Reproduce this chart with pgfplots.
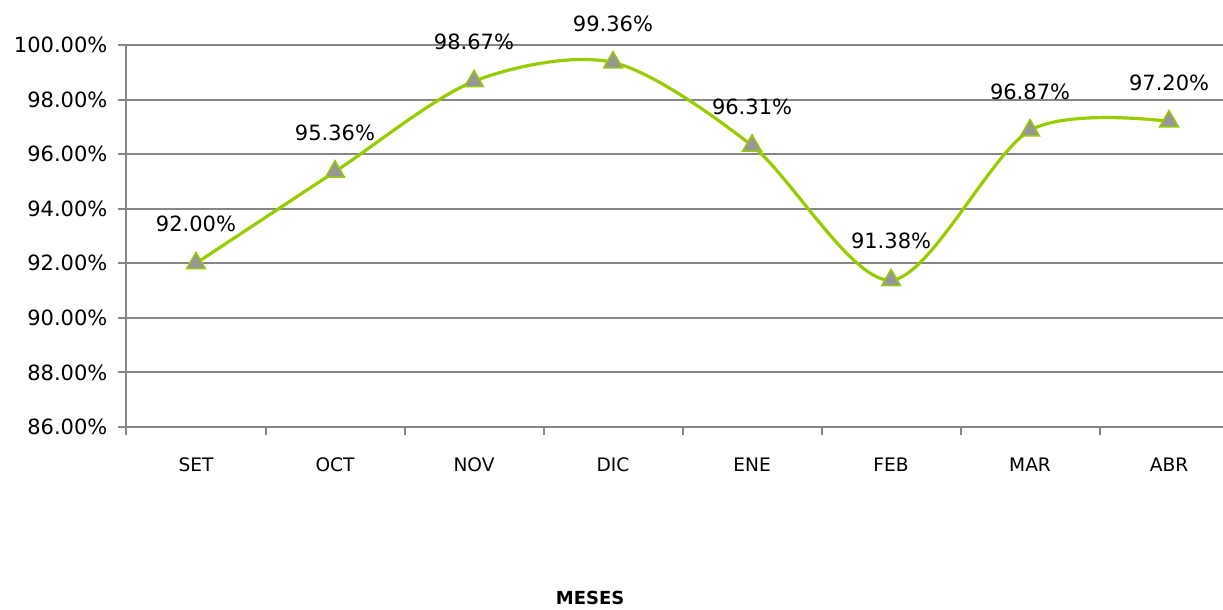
\documentclass[border=0pt]{standalone}
\usepackage{pgfplots}
\pgfplotsset{compat=1.18}
\usepackage{fontspec}
\setmainfont{DejaVu Sans}
\definecolor{linegreen}{RGB}{153,204,0}
\definecolor{gridgray}{RGB}{134,134,134}
\definecolor{markgray}{RGB}{150,150,150}
\begin{document}
\begin{tikzpicture}
\begin{axis}[
  scale only axis, width=548.25pt, height=191pt,
  xmin=-0.5, xmax=7.388, ymin=86, ymax=100,
  axis lines=left, axis line style={gridgray, line width=1pt, -},
  clip=false,
  /pgf/number format/assume math mode=true,
  ytick={86,88,...,100},
  yticklabel={\pgfmathprintnumber[fixed,fixed zerofill,precision=2]{\tick}\%},
  yticklabel style={font=\fontsize{10.5}{12}\selectfont, text=black, xshift=-2pt},
  ymajorgrids, grid style={gridgray, line width=1pt},
  xtick={0,...,7},
  xticklabels={SET,OCT,NOV,DIC,ENE,FEB,MAR,ABR},
  minor xtick={-0.5,0.5,...,6.5},
  xticklabel style={font=\fontsize{9.3}{11}\selectfont, text=black, yshift=-8pt},
  tick align=outside,
  major tick length=4pt, minor tick length=4pt,
  tick style={gridgray, line width=1pt},
  major x tick style={draw=none},
  xlabel={\textbf{MESES}},
  xlabel style={at={(axis cs:2.835,86)}, anchor=center, yshift=-85.5pt, font=\fontsize{9}{11}\selectfont, text=black},
]
\addplot[linegreen, line width=1.6pt, smooth,
  mark=triangle*, mark size=5.5pt,
  mark options={fill=markgray, draw=linegreen, line width=0.7pt},
  point meta=y,
  nodes near coords={\pgfmathprintnumber[fixed,fixed zerofill,precision=2]{\pgfplotspointmeta}\%},
  every node near coord/.append style={anchor=center, yshift=19.5pt, font=\fontsize{10.5}{12}\selectfont, text=black}
] coordinates {
  (0,92.00) (1,95.36) (2,98.67) (3,99.36) (4,96.31) (5,91.38) (6,96.87) (7,97.20)
};
\coordinate (SW) at (rel axis cs:0,0);
\coordinate (NE) at (rel axis cs:1,1);
\end{axis}
\pgfresetboundingbox
\path ([shift={(-63.25pt,-91pt)}]SW) rectangle ([shift={(0pt,22.5pt)}]NE);
\end{tikzpicture}
\end{document}
